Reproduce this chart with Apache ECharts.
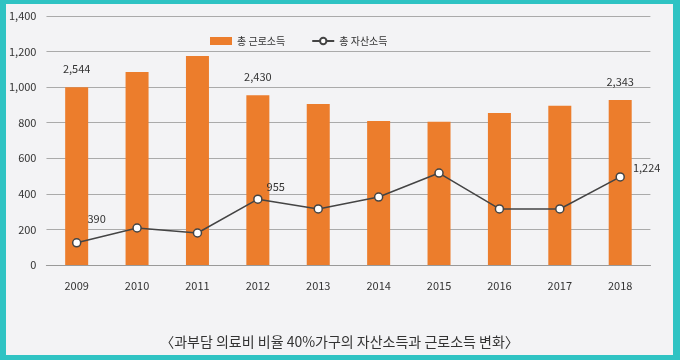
<!DOCTYPE html>
<html><head><meta charset="utf-8">
<script src="https://cdn.jsdelivr.net/npm/echarts@6/dist/echarts.min.js"></script>
<style>
html,body{margin:0;padding:0;}
#wrap{position:relative;width:680px;height:360px;background:#2fc3c3;overflow:hidden;}
#chart{position:absolute;left:6px;top:4px;width:667px;height:351px;background:#f3f3f5;}
</style></head>
<body><div id="wrap"><div id="chart"></div></div>
<script>
var categories = ['2009','2010','2011','2012','2013','2014','2015','2016','2017','2018'];
var laborIncome = [1000, 1085, 1175, 955, 905, 810, 805, 855, 895, 928];
var assetIncome = [125, 208, 180, 370, 315, 382, 517, 315, 315, 495];
var laborNotes = ['2,544','','','2,430','','','','','','2,343'];
var assetNotes = ['390','','','955','','','','','','1,224'];
var assetNoteOffsets = [[-4,-24],null,null,[-6,-12],null,null,null,null,null,[-2,-9]];
var yTicks = [0,200,400,600,800,1000,1200,1400];
var seriesNames = ['총 근로소득','총 자산소득'];
var titleText = '〈과부담 의료비 비율 40%가구의 자산소득과 근로소득 변화〉';

var FONT = '"Noto Sans CJK KR", "Noto Sans", sans-serif';
var chart = echarts.init(document.getElementById('chart'));

var barData = laborIncome.map(function(v,i){
  var d = {value:v};
  if (laborNotes[i]) d.label = {show:true, position:'top', distance:13, formatter:laborNotes[i], color:'#333', fontSize:11, fontFamily:FONT};
  return d;
});
var lineData = assetIncome.map(function(v,i){
  var d = {value:v};
  if (assetNotes[i]) d.label = {show:true, position:'right', distance:10, offset:assetNoteOffsets[i], formatter:assetNotes[i], color:'#333', fontSize:11, fontFamily:FONT};
  return d;
});

chart.setOption({
  animation:false,
  textStyle:{fontFamily:FONT},
  title:{text:titleText, left:'center', top:326, textStyle:{fontSize:14, fontWeight:'normal', color:'#333', fontFamily:FONT}},
  legend:{
    left:199, top:27, itemGap:26, itemWidth:22, itemHeight:8,
    textStyle:{fontSize:10, color:'#333', fontFamily:FONT},
    data:[{name:seriesNames[0], icon:'rect'},{name:seriesNames[1]}]
  },
  grid:{left:33.5, right:22.6, top:12, bottom:90},
  xAxis:{
    type:'category', data:categories,
    axisLine:{lineStyle:{color:'#999', width:1.2}},
    axisTick:{show:false},
    axisLabel:{color:'#333', fontSize:11, margin:15, fontFamily:FONT}
  },
  yAxis:{
    type:'value', min:yTicks[0], max:yTicks[yTicks.length-1], interval:200,
    axisLine:{show:false}, axisTick:{show:false},
    splitLine:{lineStyle:{color:'#aaa', width:1.2}},
    axisLabel:{color:'#333', fontSize:11, margin:10, fontFamily:FONT,
      formatter:function(v){return v.toLocaleString('en-US');}}
  },
  series:[
    {name:seriesNames[0], type:'bar', data:barData, barWidth:23,
     itemStyle:{color:'#ec7d2c'}},
    {name:seriesNames[1], type:'line', data:lineData,
     symbol:'circle', symbolSize:8,
     lineStyle:{color:'#444', width:1.5},
     itemStyle:{color:'#fff', borderColor:'#444', borderWidth:1.5}}
  ]
});
</script></body></html>
